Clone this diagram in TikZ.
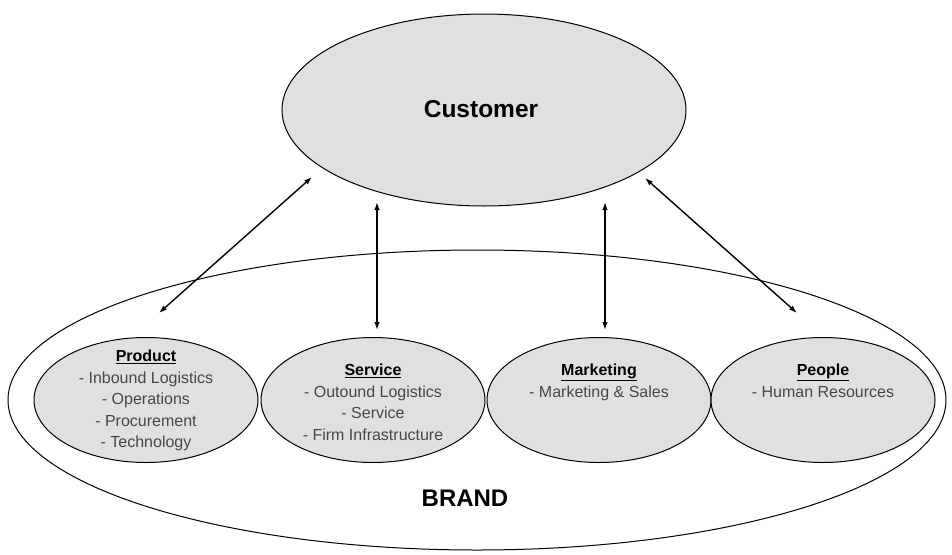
\documentclass[tikz,border=0pt]{standalone}
\usepackage{fontspec}
\setmainfont{Liberation Sans}
\usetikzlibrary{shapes.geometric, arrows.meta, positioning, calc}

\newcommand{\headline}[1]{{\color{black}\bfseries\underline{#1}}}

\begin{document}
\begin{tikzpicture}[x=1pt, y=-1pt]
\tikzset{blob/.style={ellipse, draw, line width=1pt, fill=black!12, minimum width=224pt, minimum height=125pt, inner sep=0pt}}
\tikzset{items/.style={align=center, text=black!72, font=\fontsize{16}{21.5}\selectfont, inner sep=0pt}}
\tikzset{link/.style={line width=1.4pt, {Latex[length=8pt,width=5.5pt]}-{Latex[length=8pt,width=5.5pt]}}}

\useasboundingbox (0,0) rectangle (952,554);

\node[ellipse, draw, line width=1pt, minimum width=938pt, minimum height=300pt] (brand) at (477,400) {};
\node[font=\fontsize{24}{24}\selectfont\bfseries] (brandtxt) at (465,498) {BRAND};

\node[blob, minimum width=404pt, minimum height=192pt] (customer) at (484,110) {};
\node[font=\fontsize{24.5}{24}\selectfont\bfseries] (custtxt) at (481,109) {Customer};

\node[blob] (product) at (146,400) {};
\node[blob] (service) at (373,400) {};
\node[blob] (marketing) at (599,400) {};
\node[blob] (people) at (823,400) {};

\node[items, anchor=north] (prodtxt) at ([yshift=-13pt]product.north) {\headline{Product}\\- Inbound Logistics\\- Operations\\- Procurement\\- Technology};
\node[items, anchor=north] (servtxt) at ([yshift=-27pt]service.north) {\headline{Service}\\- Outound Logistics\\- Service\\- Firm Infrastructure};
\node[items, anchor=north] (mkttxt) at ([yshift=-27pt]marketing.north) {\headline{Marketing}\\- Marketing \& Sales};
\node[items, anchor=north] (peoptxt) at ([yshift=-27pt]people.north) {\headline{People}\\- Human Resources};

\coordinate (c1) at (312,177);
\coordinate (p1) at (159,313);
\coordinate (c2) at (377,202);
\coordinate (s2) at (377,330);
\coordinate (c3) at (605,202);
\coordinate (m3) at (605,330);
\coordinate (c4) at (645,178);
\coordinate (q4) at (797,313);

\draw[link] (c1) -- (p1);
\draw[link] (c2) -- (s2);
\draw[link] (c3) -- (m3);
\draw[link] (c4) -- (q4);
\end{tikzpicture}
\end{document}
